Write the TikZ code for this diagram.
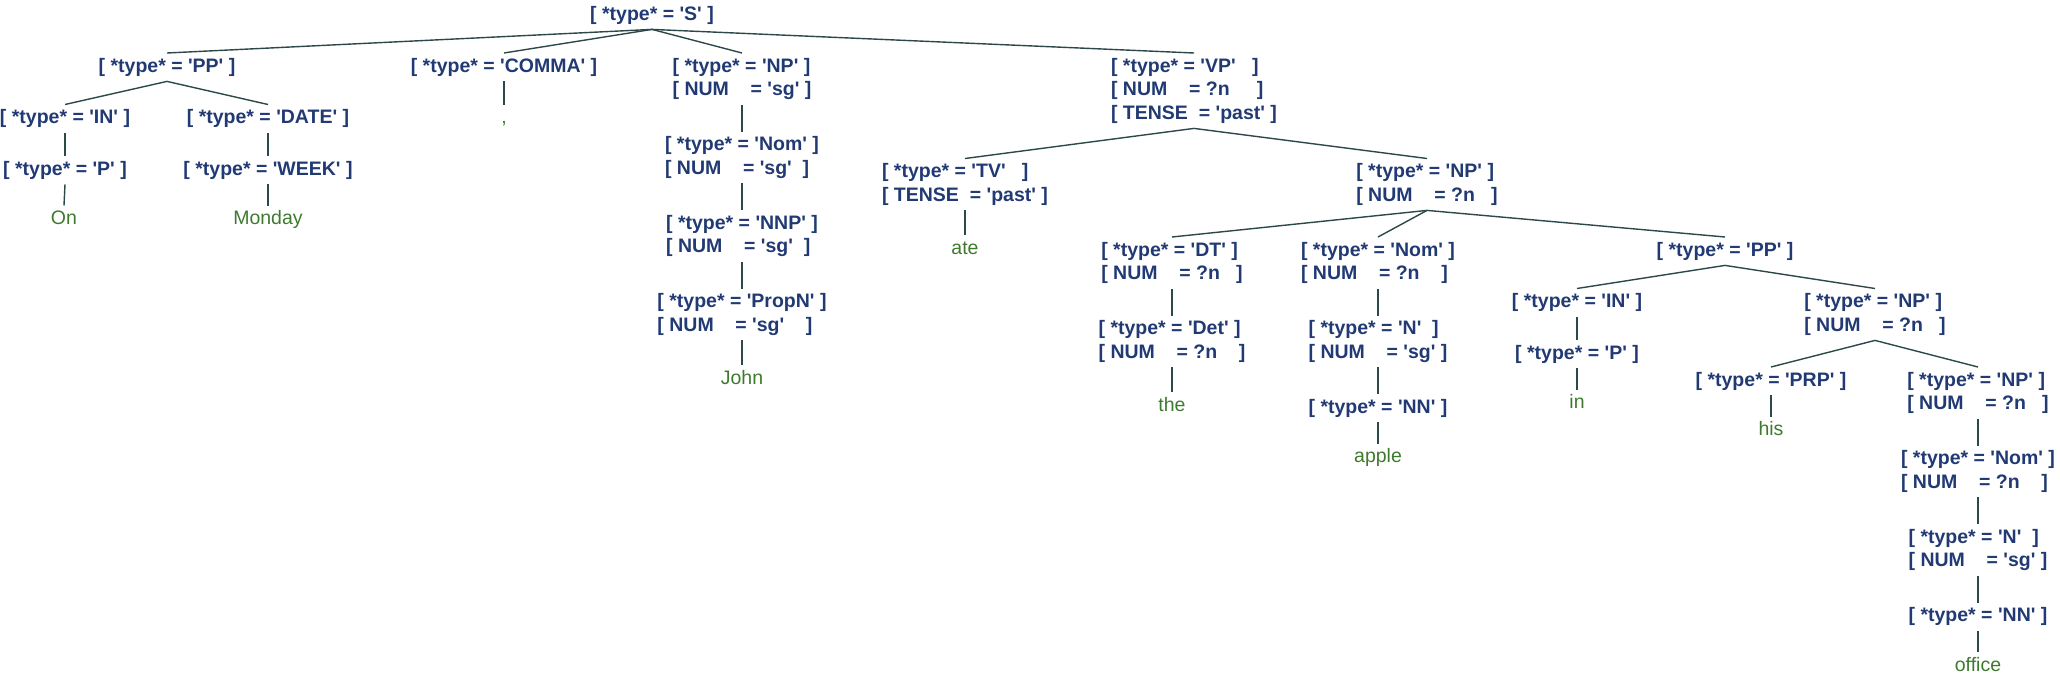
\documentclass[tikz,border=0pt]{standalone}
\usepackage{fontspec}
\setmainfont{Liberation Sans}[Ligatures=TeXOff]
\definecolor{nodeblue}{RGB}{33,58,115}
\definecolor{leafgreen}{RGB}{62,122,46}
\definecolor{edgecol}{RGB}{44,72,72}
\newcommand\fl[1]{\rule[-6.75pt]{0pt}{23.5pt}#1}
\tikzset{
  fs/.style={anchor=north, font=\fontsize{19.5}{23.5}\selectfont\bfseries, text=nodeblue, align=left, inner xsep=0pt, inner ysep=2.25pt},
  lf/.style={anchor=north, font=\fontsize{19.5}{23.5}\selectfont, text=leafgreen, inner xsep=0pt, inner ysep=2.25pt},
  br/.style={draw=edgecol, line width=1.4pt}
}
\begin{document}
\begin{tikzpicture}[x=1pt,y=-1pt]
\useasboundingbox (0,0) rectangle (2060,680);
% level 0
\node[fs] (S) at (652,1) {\fl{[ *type* = 'S' ]}};
% level 1
\node[fs] (PP) at (167,53) {\fl{[ *type* = 'PP' ]}};
\node[fs] (COMMA) at (504,53) {\fl{[ *type* = 'COMMA' ]}};
\node[fs] (NPj) at (742,53) {\fl{[ *type* = 'NP' ]}\\\fl{[ NUM~~~~= 'sg' ]}};
\node[fs] (VP) at (1194,53) {\fl{[ *type* = 'VP'~~~]}\\\fl{[ NUM~~~~= ?n~~~~~]}\\\fl{[ TENSE~~= 'past' ]}};
% PP subtree
\node[fs] (IN) at (65,104.5) {\fl{[ *type* = 'IN' ]}};
\node[fs] (DATE) at (268,104.5) {\fl{[ *type* = 'DATE' ]}};
\node[fs] (P) at (65,156) {\fl{[ *type* = 'P' ]}};
\node[fs] (WEEK) at (268,156) {\fl{[ *type* = 'WEEK' ]}};
\node[lf] (On) at (64,205.5) {\fl{On}};
\node[lf] (Monday) at (268,205.5) {\fl{Monday}};
% comma
\node[lf] (comma) at (504,104.5) {\fl{,}};
% NP John
\node[fs] (Nomj) at (742,131.5) {\fl{[ *type* = 'Nom' ]}\\\fl{[ NUM~~~~= 'sg'~~]}};
\node[fs] (NNP) at (742,210) {\fl{[ *type* = 'NNP' ]}\\\fl{[ NUM~~~~= 'sg'~~]}};
\node[fs] (PropN) at (742,288.5) {\fl{[ *type* = 'PropN' ]}\\\fl{[ NUM~~~~= 'sg'~~~~]}};
\node[lf] (John) at (742,365) {\fl{John}};
% VP subtree
\node[fs] (TV) at (965,158.5) {\fl{[ *type* = 'TV'~~~]}\\\fl{[ TENSE~~= 'past' ]}};
\node[lf] (ate) at (965,235) {\fl{ate}};
\node[fs] (NPv) at (1427,158.5) {\fl{[ *type* = 'NP' ]}\\\fl{[ NUM~~~~= ?n~~~]}};
\node[fs] (DT) at (1172,237) {\fl{[ *type* = 'DT' ]}\\\fl{[ NUM~~~~= ?n~~~]}};
\node[fs] (Det) at (1172,315.5) {\fl{[ *type* = 'Det' ]}\\\fl{[ NUM~~~~= ?n~~~~]}};
\node[lf] (the) at (1172,392) {\fl{the}};
\node[fs] (Nomv) at (1378,237) {\fl{[ *type* = 'Nom' ]}\\\fl{[ NUM~~~~= ?n~~~~]}};
\node[fs] (Nv) at (1378,315.5) {\fl{[ *type* = 'N'~~]}\\\fl{[ NUM~~~~= 'sg' ]}};
\node[fs] (NNv) at (1378,394) {\fl{[ *type* = 'NN' ]}};
\node[lf] (apple) at (1378,443.5) {\fl{apple}};
\node[fs] (PPv) at (1725,237) {\fl{[ *type* = 'PP' ]}};
\node[fs] (IN2) at (1577,288.5) {\fl{[ *type* = 'IN' ]}};
\node[fs] (P2) at (1577,340) {\fl{[ *type* = 'P' ]}};
\node[lf] (in) at (1577,389.5) {\fl{in}};
\node[fs] (NP2) at (1875,288.5) {\fl{[ *type* = 'NP' ]}\\\fl{[ NUM~~~~= ?n~~~]}};
\node[fs] (PRP) at (1771,367) {\fl{[ *type* = 'PRP' ]}};
\node[lf] (his) at (1771,416.5) {\fl{his}};
\node[fs] (NP3) at (1978,367) {\fl{[ *type* = 'NP' ]}\\\fl{[ NUM~~~~= ?n~~~]}};
\node[fs] (Nom3) at (1978,445.5) {\fl{[ *type* = 'Nom' ]}\\\fl{[ NUM~~~~= ?n~~~~]}};
\node[fs] (N3) at (1978,524) {\fl{[ *type* = 'N'~~]}\\\fl{[ NUM~~~~= 'sg' ]}};
\node[fs] (NN3) at (1978,602.5) {\fl{[ *type* = 'NN' ]}};
\node[lf] (office) at (1978,652) {\fl{office}};
% branches
\foreach \a/\b in {S/PP,S/COMMA,S/NPj,S/VP,PP/IN,PP/DATE,IN/P,P/On,DATE/WEEK,WEEK/Monday,COMMA/comma,
  NPj/Nomj,Nomj/NNP,NNP/PropN,PropN/John,VP/TV,VP/NPv,TV/ate,NPv/DT,NPv/Nomv,NPv/PPv,DT/Det,Det/the,
  Nomv/Nv,Nv/NNv,NNv/apple,PPv/IN2,PPv/NP2,IN2/P2,P2/in,NP2/PRP,NP2/NP3,PRP/his,NP3/Nom3,Nom3/N3,N3/NN3,NN3/office}
  \draw[br] (\a.south) -- (\b.north);
\end{tikzpicture}
\end{document}
